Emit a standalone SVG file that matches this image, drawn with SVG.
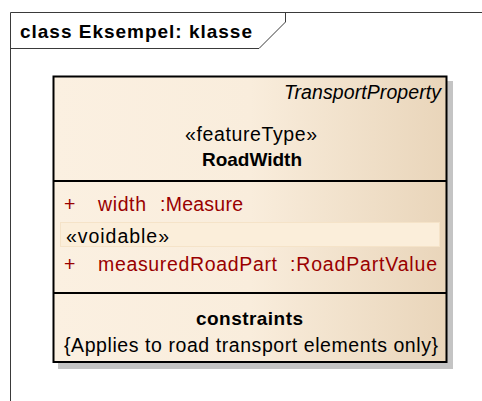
<svg xmlns="http://www.w3.org/2000/svg" width="482" height="401" viewBox="0 0 482 401">
  <style>
    text { font-family: "Liberation Sans", Arial, sans-serif; font-size: 19.5px; fill: #000; }
    .b { font-weight: bold; font-size: 19px; }
    .i { font-style: italic; }
    .attr { fill: #990000; }
    .frame { fill: none; stroke: #3a3a3a; stroke-width: 1; }
    .sep { stroke: #000; stroke-width: 2; }
  </style>
  <defs>
    <linearGradient id="fillGrad" x1="0" y1="0" x2="1" y2="0">
      <stop offset="0" stop-color="#FBF0E1"/>
      <stop offset="0.5" stop-color="#F9EDDC"/>
      <stop offset="1" stop-color="#E9D5BA"/>
    </linearGradient>
  </defs>

  <rect x="0" y="0" width="482" height="401" fill="#fff"/>

  <g id="frame">
    <polyline class="frame" points="10.5,401 10.5,12.5 482,12.5"/>
    <polyline class="frame" points="10.5,48.5 259,48.5 285.5,22 285.5,12.5"/>
    <text class="b" x="20" y="38" textLength="232" lengthAdjust="spacing">class Eksempel: klasse</text>
  </g>

  <g id="connectors"></g>

  <g id="RoadWidth">
    <rect x="58" y="81" width="395" height="288" fill="#C4C4C4"/>
    <rect x="53.5" y="76.5" width="393" height="285.5" fill="url(#fillGrad)" stroke="#000" stroke-width="2"/>
    <text class="i" x="441" y="99" text-anchor="end" textLength="157" lengthAdjust="spacing">TransportProperty</text>
    <text x="185" y="141" textLength="132" lengthAdjust="spacing">«featureType»</text>
    <text class="b" x="202" y="166" textLength="100" lengthAdjust="spacing">RoadWidth</text>
    <line class="sep" x1="53.5" y1="181" x2="446.5" y2="181"/>
    <text class="attr" x="64" y="211">+</text>
    <text class="attr" x="98" y="211" textLength="48" lengthAdjust="spacing">width</text>
    <text class="attr" x="160" y="211" textLength="83" lengthAdjust="spacing">:Measure</text>
    <rect x="60.5" y="222.5" width="379" height="24" fill="#FBEEDA" stroke="#F5E3C8" stroke-width="1"/>
    <text x="66" y="243" textLength="103" lengthAdjust="spacing">«voidable»</text>
    <text class="attr" x="64" y="271">+</text>
    <text class="attr" x="98" y="271" textLength="179" lengthAdjust="spacing">measuredRoadPart</text>
    <text class="attr" x="290" y="271" textLength="147" lengthAdjust="spacing">:RoadPartValue</text>
    <line class="sep" x1="53.5" y1="293" x2="446.5" y2="293"/>
    <text class="b" x="196" y="325" textLength="107" lengthAdjust="spacing">constraints</text>
    <text x="64" y="352" textLength="374" lengthAdjust="spacing">{Applies to road transport elements only}</text>
  </g>
</svg>
